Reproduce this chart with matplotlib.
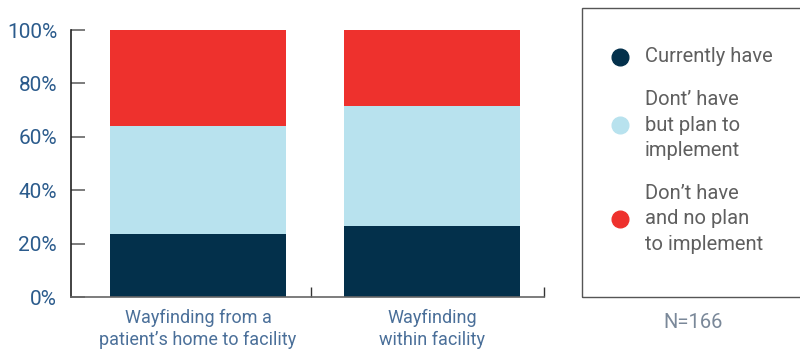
import matplotlib
matplotlib.use('Agg')
import matplotlib.pyplot as plt
from matplotlib.patches import Rectangle
from matplotlib.lines import Line2D
import numpy as np

# Data (percent of respondents)
categories = ['Wayfinding from a\npatient\u2019s home to facility', 'Wayfinding\nwithin facility']
currently_have = [23.6, 26.6]
plan_to_implement = [40.4, 44.9]
no_plan = [36.0, 28.5]
series_labels = ['Currently have', 'Dont\u2019 have\nbut plan to\nimplement', 'Don\u2019t have\nand no plan\nto implement']
yticks = [0, 20, 40, 60, 80, 100]
n_text = 'N=166'

colors = ['#03304b', '#b8e2ee', '#ee312d']

plt.rcParams['font.family'] = ['Roboto', 'DejaVu Sans']

fig = plt.figure(figsize=[8, 3.5], dpi=100)
ax = fig.add_axes([0.08875, 0.1514, 0.68 - 0.08875, 0.914 - 0.1514])

x = np.arange(len(categories))
width = 0.75
bottom = np.zeros(len(categories))
for vals, col in zip([currently_have, plan_to_implement, no_plan], colors):
    ax.bar(x, vals, width, bottom=bottom, color=col, zorder=2)
    bottom += np.array(vals)

ax.set_ylim(0, 100)
ax.set_xlim(-0.543, 1.479)
ax.set_yticks(yticks)
ax.set_yticklabels([f'{v}%' for v in yticks], fontsize=15, color='#2b5b8c')
ax.tick_params(axis='y', direction='in', length=10, width=1.2, color='#666666', pad=10)

# category labels at the bar centres, tick marks between categories
ax.set_xticks([0.483, 1.479])
ax.set_xticklabels([])
ax.tick_params(axis='x', direction='in', length=7, width=1, color='#333333')
for xi, lab in zip(x, categories):
    ax.text(xi, -4.5, lab, ha='center', va='top', fontsize=13, color='#4a6f99',
            linespacing=1.25, transform=ax.transData)

for s in ['top', 'right']:
    ax.spines[s].set_visible(False)
ax.spines['left'].set_color('#222222')
ax.spines['bottom'].set_color('#666666')
ax.spines['left'].set_linewidth(1.2)
ax.spines['bottom'].set_linewidth(1.2)

# legend box on the right
fig.patches.append(Rectangle((582 / 800, 53 / 350), 0.4, 289 / 350, transform=fig.transFigure,
                             fill=False, edgecolor='#555555', linewidth=1.0))
marker_y = [57, 125, 219]
for my, lab, col in zip(marker_y, series_labels, colors):
    fy = 1 - my / 350
    fig.add_artist(Line2D([620 / 800], [fy], marker='o', markersize=12, color=col,
                          transform=fig.transFigure))
    fig.text(645 / 800, fy, lab, ha='left', va='center', fontsize=14.5, color='#5f5f5f',
             linespacing=1.45)

fig.text(693 / 800, 1 - 323 / 350, n_text, ha='center', va='center', fontsize=14.5, color='#7a8899')

plt.savefig('out.png', dpi=100)
